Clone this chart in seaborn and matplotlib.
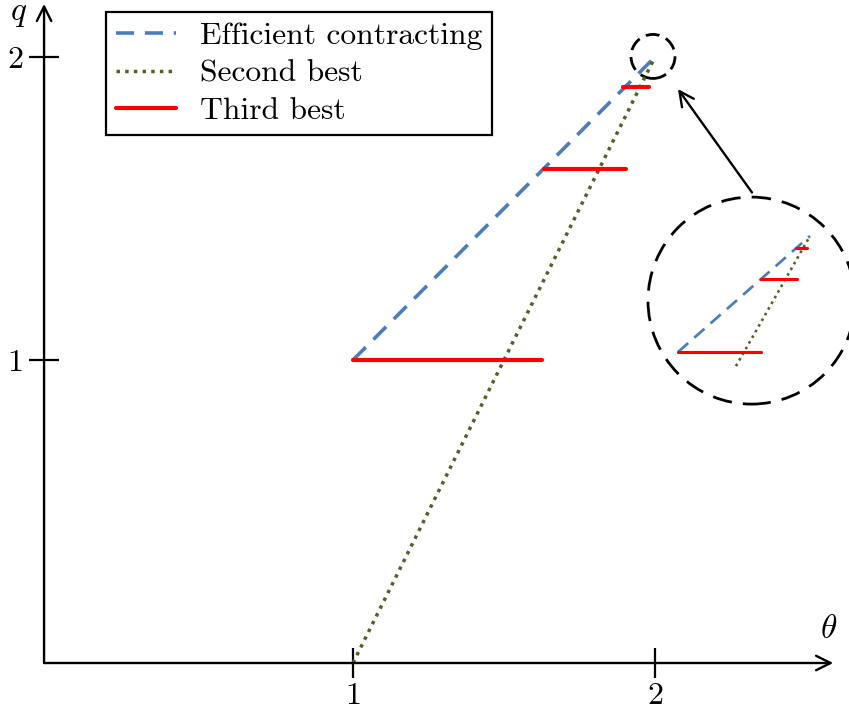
import numpy as np
import pandas as pd
import seaborn as sns
import matplotlib.pyplot as plt
from matplotlib.patches import Ellipse

# data
eff_theta = [1.0, 2.0]
eff_q = [1.0, 2.0]
sb_theta = [1.0, 2.0]
sb_q = [0.0, 2.0]
tb_q = [1.0, 1.63, 1.90]
tb_start = [1.0, 1.632, 1.895]
tb_end = [1.625, 1.903, 1.98]
xtick_vals = [1, 2]
ytick_vals = [1, 2]
labels = ["Efficient contracting", "Second best", "Third best"]

BLUE = "#4a7ebb"
GREEN = "#4f6228"
RED = "#ff0000"

sns.set_theme(style="white")
plt.rcParams["font.family"] = ["cmr10", "DejaVu Serif"]
plt.rcParams["mathtext.fontset"] = "cm"
plt.rcParams["axes.unicode_minus"] = False
plt.rcParams["text.color"] = "black"

fig = plt.figure(figsize=(8.49, 7.11), dpi=100)
ax = fig.add_axes([0, 0, 1, 1])
ax.set_xlim(-0.1689, 2.6424)
ax.set_ylim(-0.1584, 2.188)
ax.patch.set_alpha(0)


def draw_lines(a, lw_scale=1.0):
    eff = pd.DataFrame({"theta": eff_theta, "q": eff_q})
    sb = pd.DataFrame({"theta": sb_theta, "q": sb_q})
    sns.lineplot(data=eff, x="theta", y="q", ax=a, color=BLUE, lw=2.6 * lw_scale,
                 linestyle=(0, (5, 3)), sort=False, estimator=None, label=labels[0])
    sns.lineplot(data=sb, x="theta", y="q", ax=a, color=GREEN, lw=2.5 * lw_scale,
                 linestyle=(0, (1, 1.5)), sort=False, estimator=None, label=labels[1])
    for i, q in enumerate(tb_q):
        seg = pd.DataFrame({"theta": [tb_start[i], tb_end[i]], "q": [q, q]})
        sns.lineplot(data=seg, x="theta", y="q", ax=a, color=RED, lw=3.0 * lw_scale,
                     sort=False, estimator=None,
                     label=labels[2] if i == 0 else None)


draw_lines(ax)

# axes with arrow heads
x0 = -0.023
arrow_kw = dict(arrowstyle="->", lw=1.7, color="black",
                mutation_scale=26, shrinkA=0, shrinkB=0)
ax.annotate("", xy=(2.59, 0), xytext=(x0, 0), arrowprops=arrow_kw)
ax.annotate("", xy=(x0, 2.175), xytext=(x0, 0), arrowprops=arrow_kw)
for s in ax.spines.values():
    s.set_visible(False)
ax.spines["bottom"].set_position(("data", 0))
ax.spines["left"].set_position(("data", x0))
ax.set_xticks(xtick_vals)
ax.set_yticks(ytick_vals)
ax.set_xticklabels([str(v) for v in xtick_vals])
ax.set_yticklabels([str(v) for v in ytick_vals])
ax.tick_params(axis="both", direction="inout", length=22, width=1.6,
               color="black", labelsize=23, labelcolor="black")
ax.tick_params(axis="x", pad=3, bottom=True)
ax.tick_params(axis="y", pad=4, left=True)
ax.set_xlabel("")
ax.set_ylabel("")

ax.text(2.575, 0.11, r"$\theta$", fontsize=24, ha="center", va="center")
ax.text(-0.109, 2.14, r"$q$", fontsize=24, ha="center", va="center")

# zoom circles and arrow
ax.add_patch(Ellipse((1.9934, 2.0017), 2 * 0.0728, 2 * 0.0726, fill=False,
                     ec="black", lw=2.0, ls=(0, (5, 2.5))))
ax.add_patch(Ellipse((2.3195, 1.196), 2 * 0.3427, 2 * 0.3416, fill=False,
                     ec="black", lw=2.0, ls=(0, (7, 4)), clip_on=False))
ax.annotate("", xy=(2.076, 1.894), xytext=(2.3212, 1.5528), arrowprops=arrow_kw)

# legend
h, l = ax.get_legend_handles_labels()
leg = ax.legend(h, l, loc="upper left", bbox_to_anchor=(106 / 849, 1 - 12 / 711),
                bbox_transform=fig.transFigure, borderaxespad=0, frameon=True,
                fancybox=False, edgecolor="black", framealpha=1, fontsize=22.7,
                handlelength=1.9, handletextpad=0.75, borderpad=0.32,
                labelspacing=0.3)
leg.get_frame().set_linewidth(1.6)
for t in leg.get_texts():
    t.set_color("black")

# inset (schematic zoom, different aspect)
ins = fig.add_axes([660 / 849, (711 - 368) / 711, 170 / 849, 148 / 711])
ins.set_xlim(0.8636, 2.1515)
ins.set_ylim(0.862, 2.138)
draw_lines(ins, lw_scale=0.75)
if ins.get_legend():
    ins.get_legend().remove()
ins.axis("off")
ins.patch.set_alpha(0)

fig.savefig("out.png", dpi=100)
